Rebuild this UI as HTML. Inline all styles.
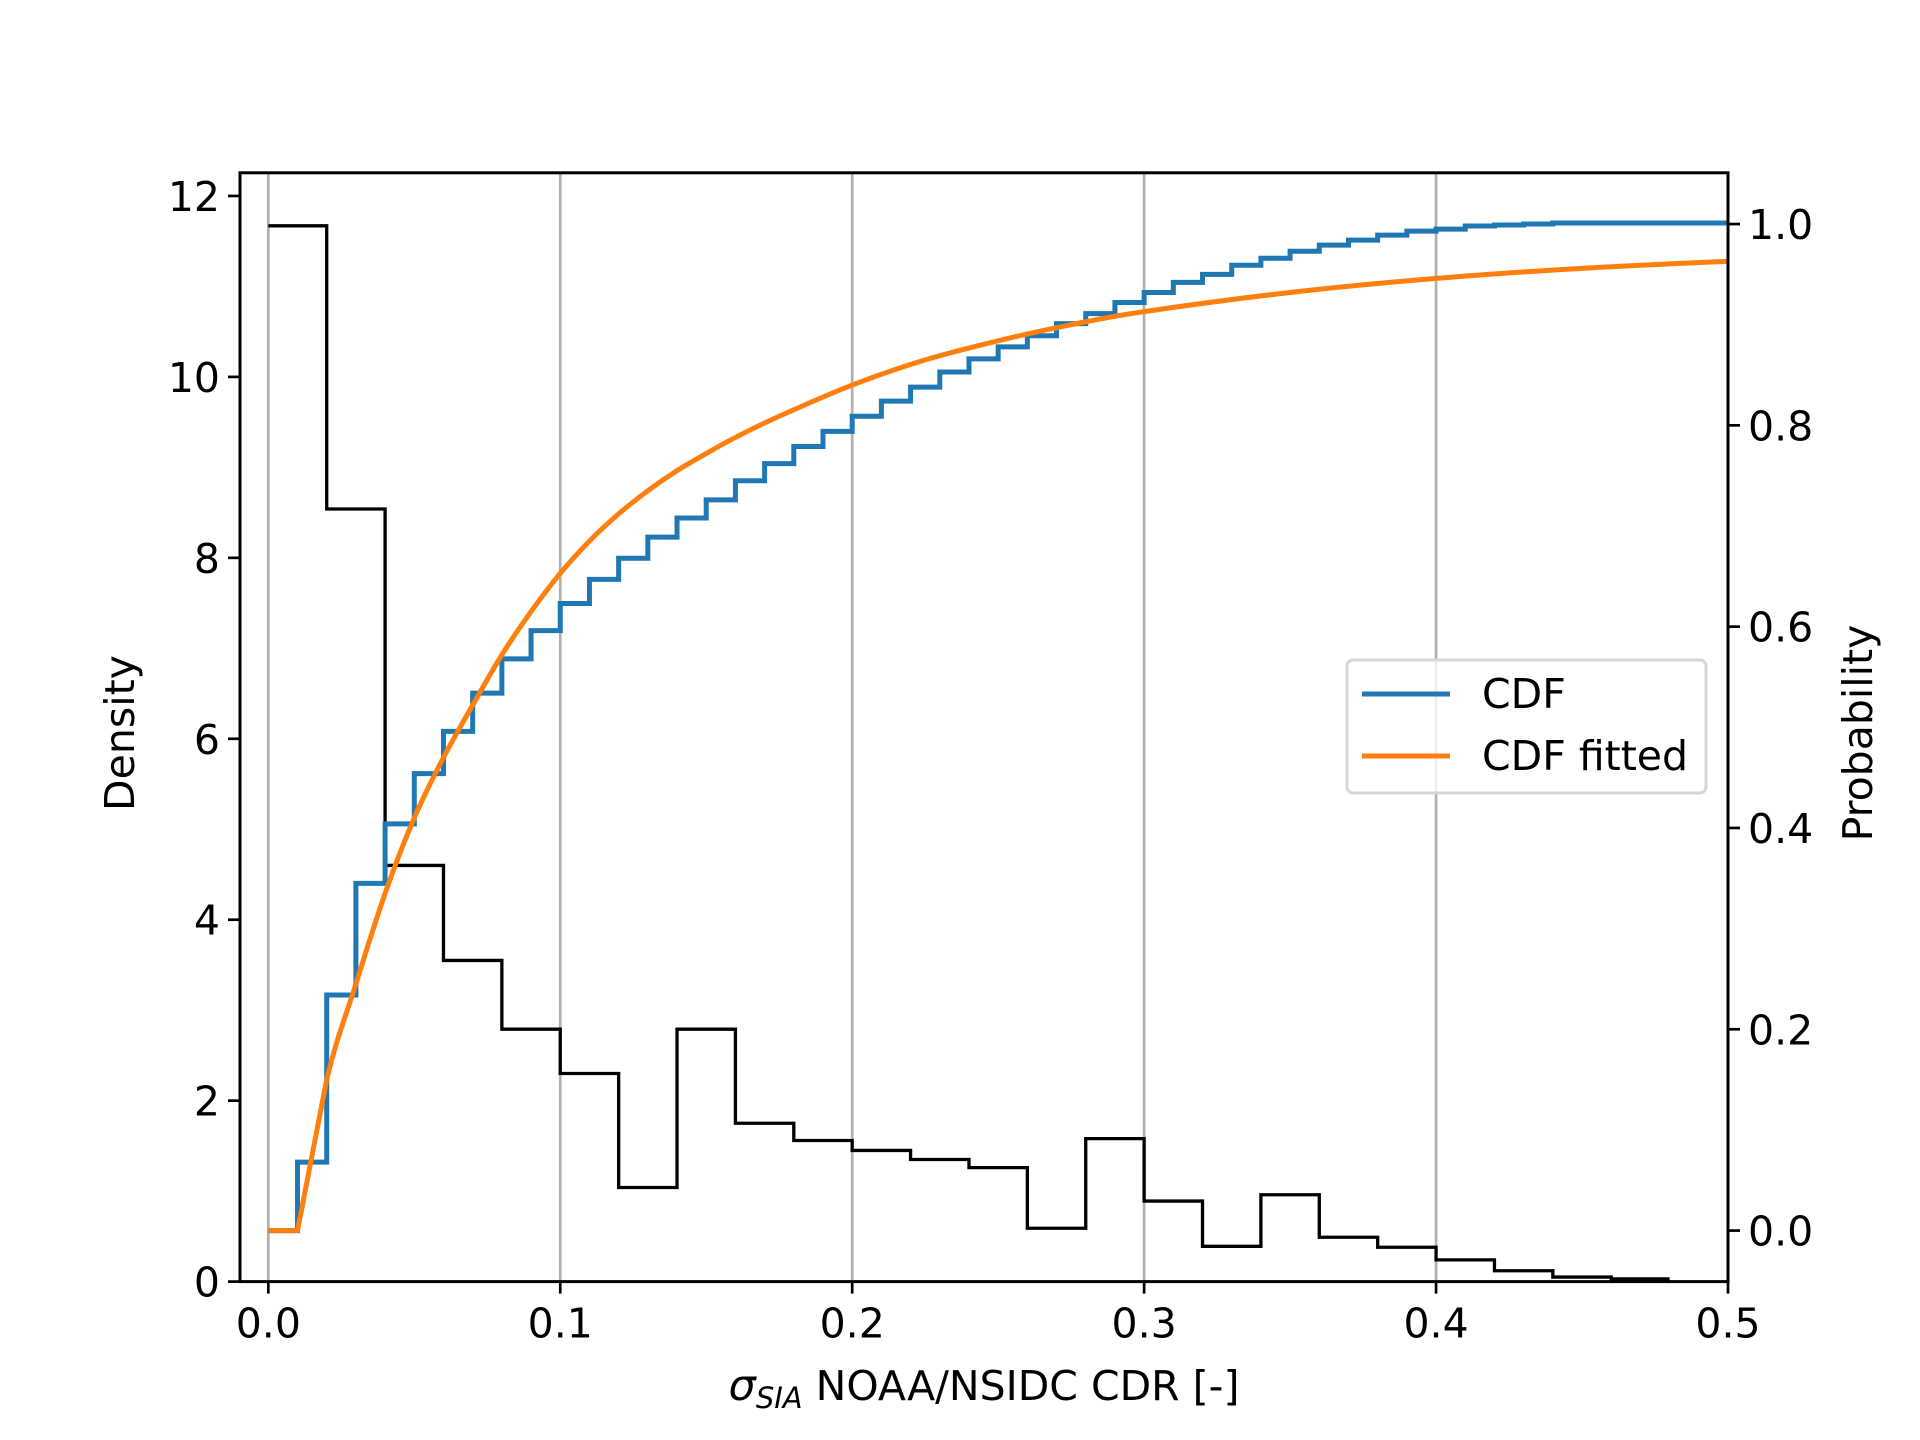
<!DOCTYPE html>
<html><head><meta charset="utf-8"><style>
html,body{margin:0;padding:0;background:#fff}
svg{display:block;font-family:"DejaVu Sans","Liberation Sans",sans-serif}
</style></head><body>
<svg id="chart" width="1920" height="1440" viewBox="0 0 1920 1440" xmlns="http://www.w3.org/2000/svg">
<rect width="1920" height="1440" fill="#fff"/>
<g id="grid"></g><g id="marks"></g><g id="axes"></g>
</svg>
<script>
const histEdges = [0,0.02,0.04,0.06,0.08,0.10,0.12,0.14,0.16,0.18,0.20,0.22,0.24,0.26,0.28,0.30,0.32,0.34,0.36,0.38,0.40,0.42,0.44,0.46,0.48];
const histDensity = [11.67,8.54,4.60,3.55,2.79,2.30,1.04,2.79,1.75,1.56,1.45,1.35,1.26,0.59,1.58,0.89,0.39,0.96,0.49,0.38,0.24,0.12,0.05,0.03];
const cdfX = [0,0.01,0.02,0.03,0.04,0.05,0.06,0.07,0.08,0.09,0.10,0.11,0.12,0.13,0.14,0.15,0.16,0.17,0.18,0.19,0.20,0.21,0.22,0.23,0.24,0.25,0.26,0.27,0.28,0.29,0.30,0.31,0.32,0.33,0.34,0.35,0.36,0.37,0.38,0.39,0.40,0.41,0.42,0.43,0.44];
const cdfP = [0,0.068,0.234,0.345,0.404,0.454,0.496,0.534,0.568,0.596,0.623,0.647,0.668,0.689,0.708,0.726,0.745,0.762,0.779,0.794,0.809,0.824,0.838,0.853,0.866,0.878,0.889,0.901,0.911,0.922,0.932,0.942,0.950,0.959,0.966,0.973,0.979,0.984,0.989,0.993,0.995,0.998,0.999,1.0,1.001];
const fitX = [0.01,0.02,0.03,0.04,0.05,0.06,0.07,0.08,0.09,0.10,0.11,0.12,0.13,0.14,0.15,0.16,0.175,0.20,0.225,0.25,0.275,0.30,0.35,0.40,0.45,0.50];
const fitP = [0,0.15,0.245,0.335,0.41,0.47,0.522,0.572,0.615,0.653,0.685,0.712,0.735,0.755,0.772,0.788,0.809,0.840,0.865,0.884,0.900,0.913,0.932,0.946,0.956,0.963];
const xTicks = [0,0.1,0.2,0.3,0.4,0.5];
const xTickLabels = ["0.0","0.1","0.2","0.3","0.4","0.5"];
const yTicks = [0,2,4,6,8,10,12];
const pTicks = [0,0.2,0.4,0.6,0.8,1.0];
const pTickLabels = ["0.0","0.2","0.4","0.6","0.8","1.0"];

const L=240,R=1728,T=172.8,B=1281.6;
const xMin=-0.0097,xMax=0.5,yMin=0,yMax=12.256,pMin=-0.0507,pMax=1.0509;
const sx=v=>L+(v-xMin)/(xMax-xMin)*(R-L);
const sy=v=>B-(v-yMin)/(yMax-yMin)*(B-T);
const sp=v=>B-(v-pMin)/(pMax-pMin)*(B-T);
const NS="http://www.w3.org/2000/svg";
function mk(parent,tag,attrs,text){const e=document.createElementNS(NS,tag);for(const k in attrs)e.setAttribute(k,attrs[k]);if(text!==undefined)e.textContent=text;parent.appendChild(e);return e;}
const grid=document.getElementById('grid'),marks=document.getElementById('marks'),axes=document.getElementById('axes');

xTicks.forEach((t,i)=>{
  const g=mk(grid,'line',{x1:sx(t),x2:sx(t),y1:T,y2:B,stroke:'#b0b0b0','stroke-width':2.7});
  
  
});

let d=`M${sx(histEdges[0])},${sy(histDensity[0])}`;
histDensity.forEach((v,i)=>{d+=` L${sx(histEdges[i])},${sy(v)} L${sx(histEdges[i+1])},${sy(v)}`;});
const h=mk(marks,'path',{d:d,fill:'none',stroke:'#000','stroke-width':3.3});



let c=`M${sx(cdfX[0])},${sp(cdfP[0])}`;
cdfP.forEach((v,i)=>{const xn=i+1<cdfX.length?cdfX[i+1]:xMax;c+=` L${sx(cdfX[i])},${sp(v)} L${sx(xn)},${sp(v)}`;});
const cl=mk(marks,'path',{d:c,fill:'none',stroke:'#1f77b4','stroke-width':5,'stroke-linejoin':'miter'});



const pts=fitX.map((x,i)=>[sx(x),sp(fitP[i])]);
let f=`M${sx(0)},${sp(0)} L${pts[0][0]},${pts[0][1]} L${pts[1][0]},${pts[1][1]}`;
for(let i=1;i<pts.length-1;i++){
  const p0=pts[i-1],p1=pts[i],p2=pts[i+1],p3=pts[Math.min(i+2,pts.length-1)];
  const c1=[p1[0]+(p2[0]-p0[0])/6,p1[1]+(p2[1]-p0[1])/6];
  const c2=[p2[0]-(p3[0]-p1[0])/6,p2[1]-(p3[1]-p1[1])/6];
  f+=` C${c1[0]},${c1[1]} ${c2[0]},${c2[1]} ${p2[0]},${p2[1]}`;
}
const fl=mk(marks,'path',{d:f,fill:'none',stroke:'#ff7f0e','stroke-width':5,'stroke-linejoin':'round'});



const fr=mk(axes,'rect',{x:L,y:T,width:R-L,height:B-T,fill:'none',stroke:'#000','stroke-width':3});



const FS=41;
xTicks.forEach((t,i)=>{
  mk(axes,'line',{x1:sx(t),x2:sx(t),y1:B,y2:B+12,stroke:'#000','stroke-width':2.7});
  const tl=mk(axes,'text',{x:sx(t),y:B+56,'font-size':FS,'text-anchor':'middle'},xTickLabels[i]);
  
  
});
yTicks.forEach(t=>{
  mk(axes,'line',{x1:L-12,x2:L,y1:sy(t),y2:sy(t),stroke:'#000','stroke-width':2.7});
  const tl=mk(axes,'text',{x:L-20,y:sy(t)+15,'font-size':FS,'text-anchor':'end'},String(t));
  
  
});
pTicks.forEach((t,i)=>{
  mk(axes,'line',{x1:R,x2:R+12,y1:sp(t),y2:sp(t),stroke:'#000','stroke-width':2.7});
  const tl=mk(axes,'text',{x:R+20,y:sp(t)+15,'font-size':FS,'text-anchor':'start'},pTickLabels[i]);
  
  
});
</script>
<svg style="position:absolute;left:0;top:0" width="1920" height="1440">
<text x="984" y="1400" font-size="41" text-anchor="middle" font-family="DejaVu Sans, Liberation Sans, sans-serif"><tspan font-style="italic" font-size="43">σ</tspan><tspan font-style="italic" font-size="29" dy="8">SIA</tspan><tspan dy="-8"> NOAA/NSIDC CDR [-]</tspan></text>
<text transform="translate(134,733) rotate(-90)" font-size="41" text-anchor="middle" font-family="DejaVu Sans, Liberation Sans, sans-serif">Density</text>
<text transform="translate(1872,733) rotate(-90)" font-size="41" text-anchor="middle" font-family="DejaVu Sans, Liberation Sans, sans-serif">Probability</text>
<g>
<rect x="1347" y="660" width="359" height="133" rx="6" fill="rgba(255,255,255,0.8)" stroke="#d6d6d6" stroke-width="3"/>
<line x1="1362" x2="1450" y1="694" y2="694" stroke="#1f77b4" stroke-width="5"/>
<text x="1482" y="708" font-size="41" font-family="DejaVu Sans, Liberation Sans, sans-serif">CDF</text>
<line x1="1362" x2="1450" y1="756" y2="756" stroke="#ff7f0e" stroke-width="5"/>
<text x="1482" y="770" font-size="41" font-family="DejaVu Sans, Liberation Sans, sans-serif">CDF fitted</text>
</g>
</svg>
</body></html>
